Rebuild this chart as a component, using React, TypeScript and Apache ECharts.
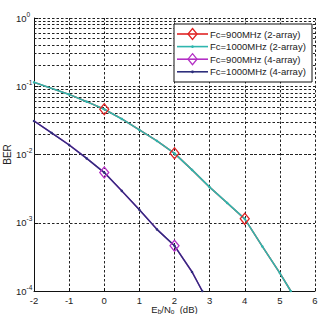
import React, { useEffect, useRef } from "react";
import * as echarts from "echarts";

// Eb/N0 (dB) sample points and bit error rates for each antenna array size
const ebn0TwoArray = [-2, -1, -0.5, 0, 0.5, 1, 1.5, 2, 2.5, 3, 3.5, 4, 4.5, 5, 5.31];
const berTwoArray = [0.114, 0.076, 0.0595, 0.046, 0.0332, 0.0229, 0.0158, 0.0104, 0.00595, 0.00332, 0.00195, 0.00114, 0.00045, 0.000183, 0.0001];
const ebn0FourArray = [-2, -1.5, -1, -0.5, 0, 0.5, 1, 1.5, 2, 2.5, 2.79];
const berFourArray = [0.031, 0.0207, 0.0138, 0.00877, 0.00543, 0.00293, 0.00155, 0.0008, 0.00046, 0.00019, 0.0001];

// Eb/N0 points where the 900 MHz runs are marked
const markers900TwoArray = [0, 2, 4];
const markers900FourArray = [0, 2];

const seriesNames = [
  "Fc=900MHz (2-array)",
  "Fc=1000MHz (2-array)",
  "Fc=900MHz (4-array)",
  "Fc=1000MHz (4-array)",
];

const xTicks = [-2, -1, 0, 1, 2, 3, 4, 5, 6];
const decades = [-4, -3, -2, -1];
const minorSteps = [2, 3, 4, 5, 6, 7, 8, 9];

const RED = "#e02424";
const TEAL = "#2fb6ae";
const PURPLE = "#b32fc4";
const NAVY = "#2e2f7c";
const FONT = "Liberation Sans, Arial, sans-serif";

const gridDash = { color: "#222", width: 1, type: [2.5, 2] as number[] };

function markedData(xs: number[], ys: number[], marks: number[]) {
  return xs.map((x, i) => ({
    value: [x, ys[i]],
    symbol: marks.includes(x) ? "diamond" : "none",
  }));
}

// Boxed key in the upper right corner: line sample, marker and label per series
function legendGraphic() {
  const left = 174;
  const top = 24;
  const rowH = 12.6;
  const firstRow = 34;
  const styles = [
    { color: RED, marker: "diamond" },
    { color: TEAL, marker: "dot" },
    { color: PURPLE, marker: "diamond" },
    { color: NAVY, marker: "dot" },
  ];
  const elements: any[] = [
    {
      type: "rect",
      z: 100,
      shape: { x: left, y: top, width: 138, height: 58 },
      style: { fill: "#fff", stroke: "#111", lineWidth: 1 },
    },
  ];
  styles.forEach((s, i) => {
    const y = firstRow + i * rowH;
    elements.push({
      type: "rect",
      z: 101,
      x: 177,
      y: y - 0.8,
      shape: { x: 0, y: 0, width: 31, height: 1.6 },
      style: { fill: s.color },
    });
    if (s.marker === "diamond") {
      elements.push({
        type: "polygon",
        z: 102,
        x: 192.5,
        y: y,
        shape: { points: [[0, -5.5], [4.5, 0], [0, 5.5], [-4.5, 0]] },
        style: { fill: "none", stroke: s.color, lineWidth: 1.3 },
      });
    } else {
      elements.push({
        type: "circle",
        z: 102,
        x: 192.5,
        y: y,
        shape: { cx: 0, cy: 0, r: 1.4 },
        style: { fill: s.color },
      });
    }
    elements.push({
      type: "text",
      z: 103,
      x: 210,
      y: y,
      style: {
        text: seriesNames[i],
        fontSize: 9.5,
        fontFamily: FONT,
        fill: "#222",
        backgroundColor: "#fff",
        verticalAlign: "middle",
        align: "left",
      },
    });
  });
  return elements;
}

export default function App() {
  const ref = useRef<HTMLDivElement>(null);

  useEffect(() => {
    if (!ref.current) return;
    const chart = echarts.init(ref.current, undefined, { renderer: "svg" });

    const minorLines: { yAxis: number }[] = [];
    decades.forEach((d) =>
      minorSteps.forEach((k) => minorLines.push({ yAxis: k * Math.pow(10, d) }))
    );

    chart.setOption({
      animation: false,
      backgroundColor: "#fff",
      textStyle: { fontFamily: FONT },
      grid: { left: 34, top: 18, width: 281, height: 273, outerBoundsMode: "none", containLabel: false },
      graphic: { elements: legendGraphic() },
      xAxis: {
        type: "value",
        min: -2,
        max: 6,
        interval: 1,
        name: "E{b|b}/N{b|o}  (dB)",
        nameLocation: "middle",
        nameGap: 13,
        nameMoveOverlap: false,
        nameTextStyle: {
          fontSize: 9.5,
          color: "#222",
          verticalAlign: "top",
          rich: { b: { fontSize: 6.5, verticalAlign: "bottom", padding: [4, 0, 0, 0] } },
        },
        axisLine: { show: true, onZero: false, lineStyle: { color: "#111", width: 1 } },
        axisTick: { show: true, inside: true, length: 3, lineStyle: { color: "#111" } },
        axisLabel: { fontSize: 9.5, color: "#222", margin: 4, formatter: (v: number) => (xTicks.includes(v) ? String(v) : "") },
        splitLine: { show: true, lineStyle: gridDash },
      },
      yAxis: {
        type: "log",
        logBase: 10,
        min: 1e-4,
        max: 1,
        name: "BER",
        nameLocation: "middle",
        nameGap: 22,
        nameMoveOverlap: false,
        nameRotate: 90,
        nameTextStyle: { fontSize: 10, color: "#222" },
        axisLine: { show: true, onZero: false, lineStyle: { color: "#111", width: 1 } },
        axisTick: { show: true, inside: true, length: 4, lineStyle: { color: "#111" } },
        axisLabel: {
          fontSize: 9.5,
          color: "#222",
          margin: 18,
          align: "left",
          formatter: (v: number) => "10{s|" + Math.round(Math.log10(v)) + "}",
          rich: {
            s: { fontSize: 6.5, verticalAlign: "top", padding: [0, 0, 8, 0] },
          },
        },
        splitLine: { show: true, lineStyle: gridDash },
      },
      series: [
        {
          name: seriesNames[0],
          type: "line",
          data: markedData(ebn0TwoArray, berTwoArray, markers900TwoArray),
          symbolSize: [9, 11],
          showSymbol: true,
          lineStyle: { color: RED, width: 1.5 },
          itemStyle: { color: "none", borderColor: RED, borderWidth: 1.3 },
          color: RED,
          markLine: {
            silent: true,
            symbol: "none",
            z: 1,
            label: { show: false },
            lineStyle: gridDash,
            data: minorLines,
          },
        },
        {
          name: seriesNames[1],
          type: "line",
          data: ebn0TwoArray.map((x, i) => [x, berTwoArray[i]]),
          symbol: "circle",
          symbolSize: 2.5,
          showSymbol: true,
          lineStyle: { color: TEAL, width: 1.6 },
          itemStyle: { color: TEAL },
          color: TEAL,
        },
        {
          name: seriesNames[2],
          type: "line",
          data: markedData(ebn0FourArray, berFourArray, markers900FourArray),
          symbolSize: [9, 11],
          showSymbol: true,
          lineStyle: { color: PURPLE, width: 1.5 },
          itemStyle: { color: "none", borderColor: PURPLE, borderWidth: 1.3 },
          color: PURPLE,
        },
        {
          name: seriesNames[3],
          type: "line",
          data: ebn0FourArray.map((x, i) => [x, berFourArray[i]]),
          symbol: "circle",
          symbolSize: 2.5,
          showSymbol: true,
          lineStyle: { color: NAVY, width: 1.4 },
          itemStyle: { color: NAVY },
          color: NAVY,
        },
      ],
    });

    return () => chart.dispose();
  }, []);

  return (
    <div
      ref={ref}
      style={{ position: "absolute", left: 0, top: 0, width: 320, height: 314 }}
    />
  );
}
